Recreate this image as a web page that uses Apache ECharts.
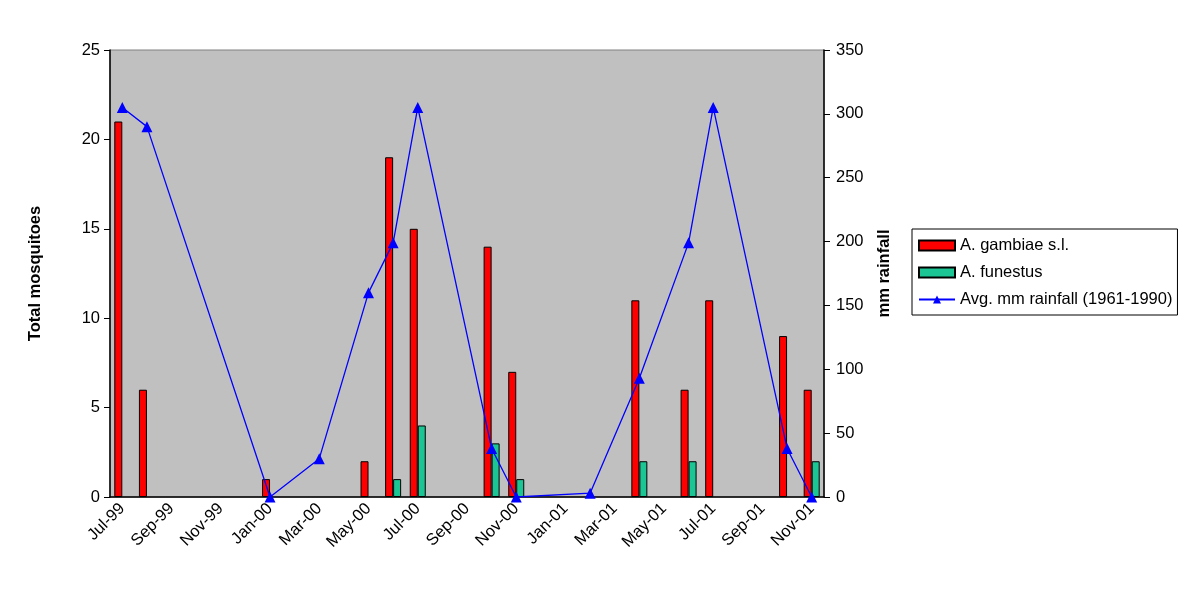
<html lang="en">
<head>
<meta charset="UTF-8">
<title>Mosquitoes and rainfall</title>
<script src="https://cdn.jsdelivr.net/npm/echarts@6/dist/echarts.min.js"></script>
</head>
<body style="margin:0">
<div id="mychart" style="width:1200px;height:600px;"></div>
<script>
    // months Jul-99 .. Nov-01
    var months = ['Jul-99', 'Aug-99', 'Sep-99', 'Oct-99', 'Nov-99', 'Dec-99',
        'Jan-00', 'Feb-00', 'Mar-00', 'Apr-00', 'May-00', 'Jun-00', 'Jul-00', 'Aug-00',
        'Sep-00', 'Oct-00', 'Nov-00', 'Dec-00', 'Jan-01', 'Feb-01', 'Mar-01', 'Apr-01',
        'May-01', 'Jun-01', 'Jul-01', 'Aug-01', 'Sep-01', 'Oct-01', 'Nov-01'];
    var gambiae = [21, 6, null, null, null, null, 1, null, null, null, 2, 19, 15, null,
        null, 14, 7, null, null, null, null, 11, null, 6, 11, null, null, 9, 6];
    var funestus = [null, null, null, null, null, null, null, null, null, null, null, 1, 4, null,
        null, 3, 1, null, null, null, null, 2, null, 2, null, null, null, null, 2];
    var rainfall = [305, 290, null, null, null, null, 0, null, 30, null, 160, 199, 305, null,
        null, 38, 0, null, null, 3, null, 93, null, 199, 305, null, null, 38, 0];

    var font = 'Liberation Sans, Arial, sans-serif';
    var e = echarts.init(document.getElementById('mychart'));
    var op = {
        animation: false,
        textStyle: {fontFamily: font},
        grid: {
            left: 110, right: 376, top: 50, bottom: 103,
            show: true,
            backgroundColor: '#C0C0C0',
            borderColor: '#808080',
            borderWidth: 1
        },
        legend: {
            orient: 'vertical',
            left: 912,
            top: 229,
            itemWidth: 36,
            itemHeight: 10,
            itemGap: 10,
            padding: [8, 5, 7, 6],
            borderColor: '#000',
            borderWidth: 1,
            textStyle: {fontSize: 16.5, color: '#000', fontFamily: font},
            data: [
                {name: 'A. gambiae s.l.', icon: 'rect'},
                {name: 'A. funestus', icon: 'rect'},
                {name: 'Avg. mm rainfall (1961-1990)'}
            ]
        },
        xAxis: {
            type: 'category',
            data: months,
            boundaryGap: true,
            axisLine: {lineStyle: {color: '#000', width: 1.5}},
            axisTick: {interval: 1, length: 6, lineStyle: {color: '#000'}},
            axisLabel: {interval: 1, rotate: 45, fontSize: 16.5, color: '#000', margin: 9}
        },
        yAxis: [{
            type: 'value',
            min: 0, max: 25, interval: 5,
            name: 'Total mosquitoes',
            nameLocation: 'middle',
            nameRotate: 90,
            nameGap: 66,
            nameTextStyle: {fontSize: 16.5, fontWeight: 'bold', color: '#000'},
            axisLine: {show: true, lineStyle: {color: '#000', width: 1.5}},
            axisTick: {show: true, length: 6, lineStyle: {color: '#000'}},
            axisLabel: {fontSize: 16.5, color: '#000', margin: 10},
            splitLine: {show: false}
        }, {
            type: 'value',
            min: 0, max: 350, interval: 50,
            name: 'mm rainfall',
            nameLocation: 'middle',
            nameRotate: 90,
            nameGap: 52,
            nameTextStyle: {fontSize: 16.5, fontWeight: 'bold', color: '#000'},
            axisLine: {show: true, lineStyle: {color: '#000', width: 1.5}},
            axisTick: {show: true, length: 6, lineStyle: {color: '#000'}},
            axisLabel: {fontSize: 16.5, color: '#000', margin: 12},
            splitLine: {show: false}
        }],
        series: [{
            name: 'A. gambiae s.l.',
            type: 'bar',
            data: gambiae,
            barWidth: 8,
            barGap: '0%',
            itemStyle: {color: '#FF0000', borderColor: '#000', borderWidth: 1}
        }, {
            name: 'A. funestus',
            type: 'bar',
            data: funestus,
            barWidth: 8,
            barGap: '0%',
            itemStyle: {color: '#1BC594', borderColor: '#000', borderWidth: 1}
        }, {
            name: 'Avg. mm rainfall (1961-1990)',
            type: 'line',
            yAxisIndex: 1,
            data: rainfall,
            connectNulls: true,
            symbol: 'triangle',
            symbolSize: 11,
            lineStyle: {color: '#0000FF', width: 1.3},
            itemStyle: {color: '#0000FF'},
            z: 5
        }]
    };
    e.setOption(op);
</script>
</body>
</html>
